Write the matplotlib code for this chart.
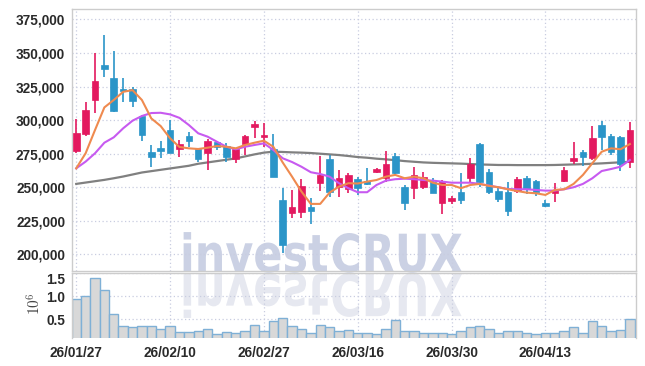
import numpy as np
import matplotlib
matplotlib.use("Agg")
from matplotlib import pyplot as plt
from matplotlib.textpath import TextPath
from matplotlib.patches import PathPatch
from matplotlib.font_manager import FontProperties
from matplotlib.transforms import Affine2D, IdentityTransform
from matplotlib.path import Path

# daily candles, in won
opens  = [277200, 289700, 315000, 341000, 331600, 323100, 323100, 303100, 276000, 279500,
          292600, 278700, 288200, 278300, 275300, 283900, 281000, 270800, 282000, 294600,
          287700, 278300, 240600, 231100, 231400, 235100, 253000, 271100, 250000, 248500,
          256000, 254700, 261600, 256700, 273300, 250000, 249700, 250500, 254200, 238600,
          240000, 246500, 257200, 282200, 261200, 247300, 246700, 247300, 256700, 254700,
          238600, 245500, 254900, 269600, 276300, 272000, 296400, 288200, 287700, 269100]
highs  = [300800, 313700, 349700, 363800, 351400, 331100, 324900, 303800, 281300, 284700,
          300100, 285200, 290900, 279000, 285900, 284700, 282700, 279000, 288900, 299600,
          298100, 289400, 249300, 248000, 256000, 241800, 273500, 274000, 262900, 260400,
          257900, 264100, 264100, 277200, 275300, 251700, 264900, 261600, 256700, 255400,
          243800, 260900, 271600, 283200, 263400, 249300, 254200, 257900, 258600, 255400,
          240600, 253400, 265300, 283500, 277800, 295800, 299300, 289700, 288200, 298400]
lows   = [275300, 288200, 305500, 332300, 306300, 313700, 310000, 284700, 265300, 271600,
          275500, 272800, 280200, 269100, 262900, 277800, 269100, 268300, 274000, 286500,
          280200, 257900, 200900, 226900, 226900, 222500, 247300, 243000, 243000, 245500,
          244300, 251700, 260600, 254200, 259200, 233100, 241300, 248500, 245500, 230100,
          237600, 237600, 253000, 250500, 245000, 239300, 228700, 245500, 245000, 243500,
          235100, 239300, 254200, 267300, 265900, 270300, 277800, 274000, 262100, 264100]
closes = [290200, 307500, 329100, 338000, 307000, 321700, 314200, 289100, 272800, 277200,
          275700, 282000, 284700, 271100, 284500, 280200, 272300, 278300, 288200, 297100,
          289100, 257900, 207100, 235600, 251000, 232600, 259200, 246300, 256700, 259200,
          249300, 252500, 263600, 267300, 260900, 238100, 259200, 257900, 245500, 254900,
          241800, 240600, 267100, 253700, 246300, 241300, 232600, 256000, 248500, 246700,
          236300, 248000, 262900, 272000, 272800, 286500, 287200, 276000, 267100, 292600]

# moving averages as drawn (k won)
ma_short = [264.1, 275.3, 292.6, 309.5, 315.0, 321.1, 322.4, 315.0, 301.3, 295.6,
            286.5, 280.0, 279.0, 278.5, 279.5, 280.7, 280.2, 279.0, 281.5, 283.2,
            284.7, 280.2, 268.5, 257.9, 246.8, 237.6, 237.6, 246.0, 250.5, 253.0,
            252.8, 254.2, 255.4, 257.9, 259.2, 256.7, 257.9, 256.7, 253.4, 251.7,
            251.7, 249.3, 251.7, 252.5, 251.0, 250.0, 248.5, 247.2, 246.0, 245.5,
            244.3, 248.0, 248.5, 252.5, 259.2, 267.9, 276.5, 279.0, 278.3, 282.2]
ma_mid = [264.1, 269.1, 275.3, 283.2, 287.2, 293.9, 299.6, 303.1, 305.3, 305.5,
          304.3, 301.7, 296.4, 290.2, 287.7, 283.9, 280.2, 278.3, 280.2, 281.5,
          282.7, 277.8, 271.6, 268.8, 265.3, 261.2, 259.9, 257.9, 253.0, 249.3,
          246.3, 246.3, 251.7, 254.9, 256.0, 256.4, 256.0, 255.4, 254.9, 254.2,
          253.4, 253.4, 253.4, 252.5, 251.2, 250.0, 248.7, 248.5, 248.5, 248.0,
          247.5, 247.5, 248.5, 250.0, 252.5, 256.7, 262.1, 263.6, 265.3, 270.3]
ma_long = [252.5, 253.5, 254.5, 255.5, 256.7, 258.0, 259.5, 261.0, 262.0, 263.0,
           264.0, 265.0, 266.0, 267.5, 268.5, 269.5, 270.5, 271.5, 273.0, 274.5,
           275.8, 276.5, 276.3, 276.0, 275.8, 275.5, 275.0, 274.5, 274.0, 273.3,
           272.5, 272.0, 271.3, 270.8, 270.2, 269.5, 269.0, 268.5, 268.2, 268.0,
           267.8, 267.6, 267.3, 267.0, 266.8, 266.6, 266.6, 266.5, 266.5, 266.5,
           266.5, 266.6, 266.8, 267.0, 267.2, 267.5, 267.8, 268.2, 268.6, 269.0]

# volume in millions of shares
volume = [0.93, 1.01, 1.38, 1.12, 0.61, 0.37, 0.33, 0.37, 0.35, 0.29,
          0.35, 0.24, 0.24, 0.26, 0.30, 0.18, 0.24, 0.20, 0.26, 0.39,
          0.26, 0.46, 0.54, 0.37, 0.30, 0.22, 0.39, 0.33, 0.25, 0.28,
          0.20, 0.20, 0.18, 0.30, 0.49, 0.25, 0.25, 0.20, 0.20, 0.22,
          0.18, 0.26, 0.33, 0.37, 0.30, 0.22, 0.26, 0.26, 0.22, 0.18,
          0.20, 0.22, 0.26, 0.33, 0.22, 0.46, 0.37, 0.26, 0.28, 0.52]

tick_pos = [0, 10, 20, 30, 40, 50]
tick_labels = ["26/01/27", "26/02/10", "26/02/27", "26/03/16", "26/03/30", "26/04/13"]

UP = "#e3195f"
DOWN = "#2b95c8"
GRID = "#c9cde0"
TXT = "#2a2a2a"

plt.rcParams["font.family"] = ["Liberation Sans", "DejaVu Sans"]
plt.rcParams["mathtext.fontset"] = "cm"

W, H = 645, 366
fig = plt.figure(figsize=(W / 100, H / 100), dpi=100)
fig.patch.set_facecolor("white")

x0, x1 = 72, 635.5
ax = fig.add_axes([x0 / W, 1 - 271 / H, (x1 - x0) / W, (271 - 9.3) / H])
axv = fig.add_axes([x0 / W, 1 - 337.5 / H, (x1 - x0) / W, (337.5 - 272.7) / H], sharex=ax)
for a in (ax, axv):
    a.set_facecolor("none")
    a.grid(True, ls=(0, (1, 2)), color=GRID, lw=0.9)
    a.set_axisbelow(True)
    for s in a.spines.values():
        s.set_color("#cccccc")
        s.set_linewidth(1.0)
    a.tick_params(length=0, colors=TXT, labelsize=9.8)

# watermark plus a pale mirrored copy underneath
fp = FontProperties(family="DejaVu Sans", weight="bold")
p1 = TextPath((0, 0), "invest", size=100, prop=fp)
p2 = TextPath((0, 0), "CRUX", size=100, prop=fp)
p2 = Affine2D().translate(p1.vertices[:, 0].max() + 6, 0).transform_path(p2)
wm_path = Path.make_compound_path(p1, p2)
vb = wm_path.vertices
bx0, bx1 = vb[:, 0].min(), vb[:, 0].max()
capC = TextPath((0, 0), "C", size=100, prop=fp).vertices[:, 1].max()
sx = (462 - 180) / (bx1 - bx0)
sy = (272 - 233) / capC
base = H - 272
wm = Affine2D().translate(-bx0, 0).scale(sx, sy).translate(180, base)
fig.patches.append(PathPatch(wm.transform_path(wm_path), transform=IdentityTransform(),
                             fc="#cbd1e4", ec="none", zorder=-5, figure=fig))
rf = Affine2D().translate(-bx0, 0).scale(sx, -sy * 1.1).translate(180, base - 2)
fig.patches.append(PathPatch(rf.transform_path(wm_path), transform=IdentityTransform(),
                             fc="#e6e8f0", ec="none", zorder=-6, figure=fig))

# candles
n = len(opens)
idx = np.arange(n)
for i in range(n):
    o, h, l, c = opens[i], highs[i], lows[i], closes[i]
    col = UP if c >= o else DOWN
    ax.vlines(i, l, h, color=col, lw=1.2, zorder=3)
    lo, hi = min(o, c), max(o, c)
    ax.bar(i, max(hi - lo, 600), bottom=lo, width=0.7, color=col,
           edgecolor=col, lw=0.5, zorder=4)

ax.plot(idx, np.array(ma_long) * 1000, color="#808080", lw=1.6, zorder=2)
ax.plot(idx, np.array(ma_mid) * 1000, color="#c75af0", lw=1.5, zorder=5)
ax.plot(idx, np.array(ma_short) * 1000, color="#ef8a4f", lw=1.5, zorder=6)

ax.set_xlim(-0.45, 59.6)
ax.set_ylim(187600, 382600)
ax.set_yticks([200000, 225000, 250000, 275000, 300000, 325000, 350000, 375000])
ax.yaxis.set_major_formatter(matplotlib.ticker.FuncFormatter(lambda v, p: f"{int(v):,}"))
ax.tick_params(axis="x", labelbottom=False)
ax.tick_params(axis="y", pad=5)
ax.set_xticks(tick_pos)

axv.bar(idx, volume, width=1.0, color="#d8d8d8", edgecolor="#7fb0d6", lw=1.0, zorder=2)
axv.set_ylim(0.114, 1.5)
axv.set_yticks([0.5, 1.0, 1.5])
axv.set_yticklabels(["0.5", "1.0", "1.5"])
axv.set_xticks(tick_pos)
axv.set_xticklabels(tick_labels)
axv.spines["bottom"].set_visible(False)
for lab in axv.get_xticklabels() + axv.get_yticklabels() + ax.get_yticklabels():
    lab.set_fontweight("bold")
axv.get_yticklabels()[-1].set_va("top")
axv.tick_params(axis="x", pad=6)
axv.tick_params(axis="y", pad=5)
axv.set_ylabel(r"$10^6$", fontsize=11, color="#444444")
axv.yaxis.set_label_coords(-0.05, 0.52)

fig.savefig("out.png", dpi=100)
